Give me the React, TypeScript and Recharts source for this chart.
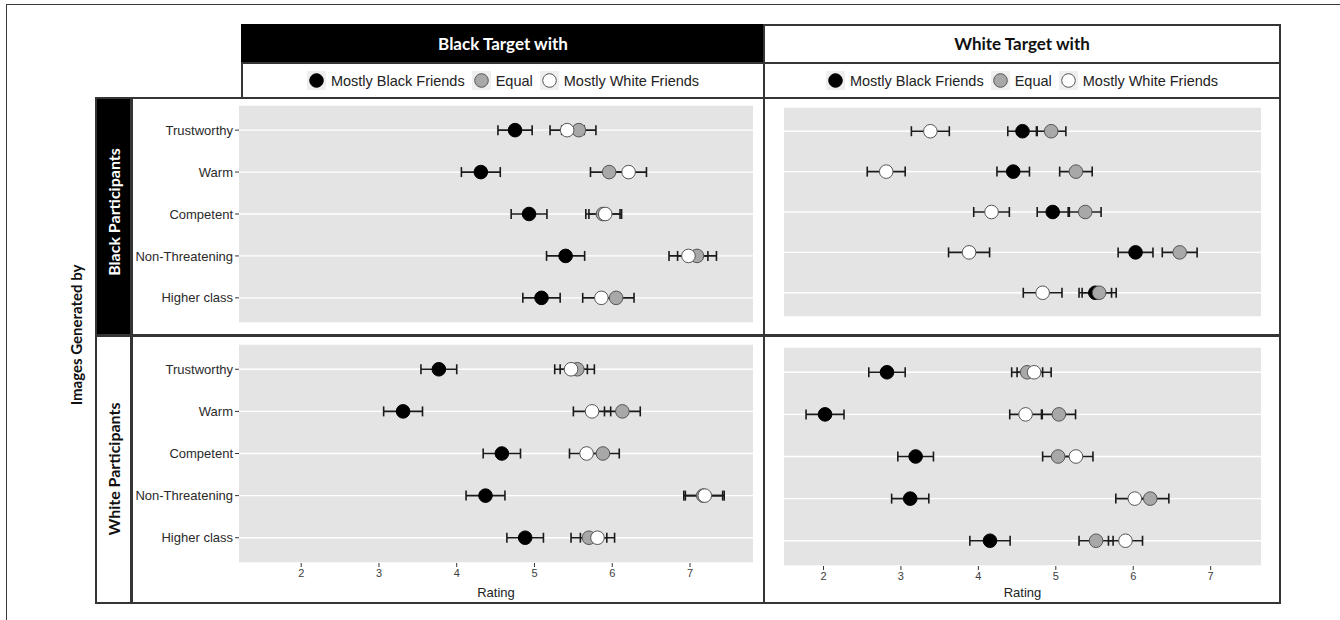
import { CartesianGrid, ErrorBar, Scatter, ScatterChart, XAxis, YAxis } from "recharts";

const attributes = ["Trustworthy", "Warm", "Competent", "Non-Threatening", "Higher class"];
const ratingTicks = [2, 3, 4, 5, 6, 7];
const rowTicks = [1, 2, 3, 4, 5];

// Black target, black participants
const btBpMostlyBlack = [4.75, 4.31, 4.93, 5.4, 5.09];
const btBpMostlyBlackSe = [0.22, 0.25, 0.23, 0.245, 0.24];
const btBpEqual = [5.57, 5.96, 5.88, 7.09, 6.05];
const btBpEqualSe = [0.22, 0.24, 0.22, 0.25, 0.23];
const btBpMostlyWhite = [5.42, 6.21, 5.91, 6.98, 5.86];
const btBpMostlyWhiteSe = [0.22, 0.23, 0.21, 0.25, 0.24];

// Black target, white participants
const btWpMostlyBlack = [3.77, 3.31, 4.58, 4.37, 4.88];
const btWpMostlyBlackSe = [0.23, 0.25, 0.24, 0.25, 0.235];
const btWpEqual = [5.55, 6.13, 5.88, 7.17, 5.7];
const btWpEqualSe = [0.22, 0.23, 0.21, 0.25, 0.23];
const btWpMostlyWhite = [5.47, 5.74, 5.67, 7.19, 5.81];
const btWpMostlyWhiteSe = [0.21, 0.24, 0.22, 0.25, 0.22];

// White target, black participants
const wtBpMostlyBlack = [4.57, 4.45, 4.96, 6.03, 5.51];
const wtBpMostlyBlackSe = [0.19, 0.21, 0.2, 0.225, 0.21];
const wtBpEqual = [4.94, 5.26, 5.38, 6.6, 5.56];
const wtBpEqualSe = [0.19, 0.21, 0.205, 0.225, 0.22];
const wtBpMostlyWhite = [3.38, 2.81, 4.17, 3.88, 4.83];
const wtBpMostlyWhiteSe = [0.245, 0.245, 0.23, 0.265, 0.25];

// White target, white participants
const wtWpMostlyBlack = [2.82, 2.02, 3.19, 3.12, 4.15];
const wtWpMostlyBlackSe = [0.235, 0.245, 0.23, 0.24, 0.26];
const wtWpEqual = [4.63, 5.04, 5.03, 6.22, 5.52];
const wtWpEqualSe = [0.2, 0.215, 0.2, 0.24, 0.22];
const wtWpMostlyWhite = [4.72, 4.61, 5.26, 6.02, 5.9];
const wtWpMostlyWhiteSe = [0.22, 0.205, 0.22, 0.245, 0.22];

const groups = [
  { name: "Mostly Black Friends", fill: "#000000", stroke: "#000000" },
  { name: "Equal", fill: "#a8a8a8", stroke: "#555555" },
  { name: "Mostly White Friends", fill: "#ffffff", stroke: "#555555" },
];

const line = "#353535";
const axisFont = "'Liberation Sans', Arial, sans-serif";
const titleFont = "Lato, 'Open Sans', sans-serif";

function toRows(means: number[], se: number[]) {
  return attributes.map((a, i) => ({ name: a, x: means[i], y: i + 1, se: se[i] }));
}

function Dot(props: any) {
  const { cx, cy, fill, stroke } = props;
  if (cx == null || cy == null) return <g />;
  return <circle cx={cx} cy={cy} r={6.8} fill={fill} stroke={stroke} strokeWidth={1} />;
}

function Panel({
  series,
  domain,
  showY,
  showX,
  width,
  height,
  margin,
  xHeight = 0,
}: {
  series: Array<{ means: number[]; se: number[] }>;
  domain: [number, number];
  showY: boolean;
  showX: boolean;
  width: number;
  height: number;
  margin: { top: number; right: number; bottom: number; left: number };
  xHeight?: number;
}) {
  const rows = series.map((s) => toRows(s.means, s.se));
  return (
    <ScatterChart width={width} height={height} margin={margin}>
      <CartesianGrid fill="#e4e4e4" stroke="#ffffff" strokeWidth={1.3} vertical={false} />
      <XAxis
        type="number"
        dataKey="x"
        domain={domain}
        ticks={ratingTicks}
        allowDataOverflow
        hide={!showX}
        height={xHeight}
        axisLine={false}
        tickSize={4}
        tickMargin={2}
        tickLine={{ stroke: line }}
        tick={{ fontSize: 11, fill: "#3d3d3d", fontFamily: axisFont }}
        label={{ value: "Rating", position: "insideBottom", offset: 6, fontSize: 13, fill: "#222", fontFamily: axisFont }}
      />
      <YAxis
        type="number"
        dataKey="y"
        domain={[0.4, 5.6]}
        ticks={rowTicks}
        reversed
        hide={!showY}
        width={showY ? 108 : 0}
        axisLine={false}
        tickSize={4}
        tickMargin={2}
        tickLine={{ stroke: line }}
        tickFormatter={(v: number) => attributes[v - 1]}
        tick={{ fontSize: 13, fill: "#2a2a2a", fontFamily: axisFont }}
      />
      {rows.map((data, i) => (
        <Scatter key={`err-${i}`} data={data} shape={() => <g />} isAnimationActive={false}>
          <ErrorBar dataKey="se" direction="x" width={5} stroke="#1a1a1a" strokeWidth={1.6} />
        </Scatter>
      ))}
      {rows.map((data, i) => (
        <Scatter
          key={`pt-${i}`}
          name={groups[i].name}
          data={data}
          fill={groups[i].fill}
          stroke={groups[i].stroke}
          shape={<Dot />}
          isAnimationActive={false}
        />
      ))}
    </ScatterChart>
  );
}

function LegendRow({ left, width }: { left: number; width: number }) {
  return (
    <div
      style={{
        position: "absolute",
        left,
        top: 63,
        width,
        height: 35,
        display: "flex",
        alignItems: "center",
        justifyContent: "center",
        fontFamily: axisFont,
        fontSize: 14.5,
        color: "#222",
      }}
    >
      {groups.map((g, i) => (
        <span key={g.name} style={{ display: "flex", alignItems: "center", marginLeft: i === 0 ? 0 : 7 }}>
          <svg width={19} height={19} style={{ background: "#efefef", marginRight: 5 }}>
            <circle cx={9.5} cy={9.5} r={6.8} fill={g.fill} stroke={g.stroke} strokeWidth={1} />
          </svg>
          {g.name}
        </span>
      ))}
    </div>
  );
}

function Box({ left, top, width, height, bg = "transparent" }: any) {
  return (
    <div
      style={{
        position: "absolute",
        left,
        top,
        width,
        height,
        boxSizing: "border-box",
        border: `2px solid ${line}`,
        background: bg,
      }}
    />
  );
}

function VText({ x, y, text, color, size }: { x: number; y: number; text: string; color: string; size: number }) {
  return (
    <div
      style={{
        position: "absolute",
        left: x,
        top: y,
        transform: "translate(-50%, -50%) rotate(-90deg)",
        whiteSpace: "nowrap",
        fontFamily: titleFont,
        fontWeight: 700,
        fontSize: size,
        color,
      }}
    >
      {text}
    </div>
  );
}

export default function App() {
  const leftDomain: [number, number] = [1.2, 7.81];
  const rightDomain: [number, number] = [1.49, 7.65];
  return (
    <div style={{ position: "absolute", left: 0, top: 0, width: 1340, height: 620, overflow: "hidden", background: "#fff" }}>
      {/* outer frame, cut off at right and bottom */}
      <div style={{ position: "absolute", left: 6, top: 4, width: 1400, height: 700, border: "1.5px solid #3a3a3a" }} />

      {/* column headers */}
      <Box left={241} top={24} width={524} height={75} />
      <div style={{ position: "absolute", left: 241, top: 24, width: 524, height: 39, background: "#000" }} />
      <div style={{ position: "absolute", left: 241, top: 62, width: 524, height: 2, background: line }} />
      <div
        style={{
          position: "absolute",
          left: 241,
          top: 24,
          width: 524,
          height: 39,
          lineHeight: "39px",
          textAlign: "center",
          color: "#fff",
          fontFamily: titleFont,
          fontWeight: 700,
          fontSize: 17,
        }}
      >
        Black Target with
      </div>
      <Box left={763} top={24} width={518} height={75} />
      <div style={{ position: "absolute", left: 763, top: 62, width: 518, height: 2, background: line }} />
      <div
        style={{
          position: "absolute",
          left: 763,
          top: 24,
          width: 518,
          height: 39,
          lineHeight: "39px",
          textAlign: "center",
          color: "#111",
          fontFamily: titleFont,
          fontWeight: 700,
          fontSize: 17,
        }}
      >
        White Target with
      </div>
      <LegendRow left={241} width={524} />
      <LegendRow left={763} width={518} />

      {/* row strips */}
      <Box left={95} top={97} width={37} height={239} bg="#000" />
      <Box left={95} top={335} width={37} height={269} />
      <VText x={113} y={212} text="Black Participants" color="#fff" size={16} />
      <VText x={113} y={469} text="White Participants" color="#111" size={16} />
      <VText x={76} y={335} text="Images Generated by" color="#111" size={15} />

      {/* panel frames */}
      <Box left={131} top={97} width={634} height={239} />
      <Box left={763} top={97} width={518} height={239} />
      <Box left={131} top={335} width={634} height={269} />
      <Box left={763} top={335} width={518} height={269} />

      <div style={{ position: "absolute", left: 131, top: 98 }}>
        <Panel
          series={[
            { means: btBpMostlyBlack, se: btBpMostlyBlackSe },
            { means: btBpEqual, se: btBpEqualSe },
            { means: btBpMostlyWhite, se: btBpMostlyWhiteSe },
          ]}
          domain={leftDomain}
          showY
          showX={false}
          width={633}
          height={237}
          margin={{ top: 7, right: 11, bottom: 12, left: 0 }}
        />
      </div>
      <div style={{ position: "absolute", left: 764, top: 98 }}>
        <Panel
          series={[
            { means: wtBpMostlyBlack, se: wtBpMostlyBlackSe },
            { means: wtBpEqual, se: wtBpEqualSe },
            { means: wtBpMostlyWhite, se: wtBpMostlyWhiteSe },
          ]}
          domain={rightDomain}
          showY={false}
          showX={false}
          width={516}
          height={237}
          margin={{ top: 9, right: 19, bottom: 18, left: 20 }}
        />
      </div>
      <div style={{ position: "absolute", left: 131, top: 335 }}>
        <Panel
          series={[
            { means: btWpMostlyBlack, se: btWpMostlyBlackSe },
            { means: btWpEqual, se: btWpEqualSe },
            { means: btWpMostlyWhite, se: btWpMostlyWhiteSe },
          ]}
          domain={leftDomain}
          showY
          showX
          width={633}
          height={268}
          margin={{ top: 9, right: 11, bottom: 0, left: 0 }}
          xHeight={40}
        />
      </div>
      <div style={{ position: "absolute", left: 764, top: 335 }}>
        <Panel
          series={[
            { means: wtWpMostlyBlack, se: wtWpMostlyBlackSe },
            { means: wtWpEqual, se: wtWpEqualSe },
            { means: wtWpMostlyWhite, se: wtWpMostlyWhiteSe },
          ]}
          domain={rightDomain}
          showY={false}
          showX
          width={516}
          height={268}
          margin={{ top: 12, right: 19, bottom: 0, left: 20 }}
          xHeight={37}
        />
      </div>
    </div>
  );
}
